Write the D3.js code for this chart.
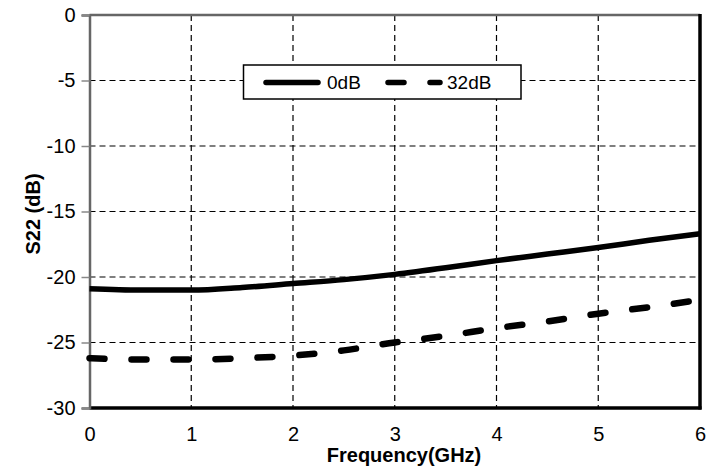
<!DOCTYPE html>
<html>
<head>
<meta charset="utf-8">
<script src="https://cdn.jsdelivr.net/npm/d3@7/dist/d3.min.js"></script>
<style>
  html, body { margin: 0; padding: 0; background: #fff; }
  svg { display: block; font-family: Arial, "Liberation Sans", sans-serif; }
</style>
</head>
<body>
<svg id="chart" width="721" height="471"></svg>
<script>
// Output return loss S22 versus frequency for two attenuation states
const freqGHz = [0, 0.5, 1, 1.5, 2, 2.5, 3, 3.5, 4, 4.5, 5, 5.5, 6];
const s22_0dB = [-20.9, -21.0, -21.0, -20.8, -20.5, -20.2, -19.8, -19.3, -18.75, -18.25, -17.75, -17.2, -16.7];
const s22_32dB = [-26.2, -26.3, -26.3, -26.2, -26.0, -25.6, -25.0, -24.5, -23.9, -23.4, -22.8, -22.3, -21.75];
const xTicks = [0, 1, 2, 3, 4, 5, 6];
const yTicks = [0, -5, -10, -15, -20, -25, -30];
const seriesNames = ["0dB", "32dB"];

const FONT = "Arial, 'Liberation Sans', sans-serif";
const svg = d3.select("#chart");
const plotLeft = 89.5, plotRight = 700, plotTop = 15, plotBottom = 408;

const x = d3.scaleLinear().domain([0, 6]).range([plotLeft, plotRight]);
const y = d3.scaleLinear().domain([-30, 0]).range([plotBottom, plotTop]);

// dashed grid
const grid = svg.append("g").attr("stroke", "#000").attr("stroke-width", 1.2)
  .attr("stroke-dasharray", "6,4").attr("fill", "none");
xTicks.filter(v => v > 0 && v < 6).forEach(v => {
  grid.append("line").attr("x1", x(v)).attr("x2", x(v)).attr("y1", plotTop).attr("y2", plotBottom);
});
yTicks.filter(v => v < 0 && v > -30).forEach(v => {
  grid.append("line").attr("x1", plotLeft).attr("x2", plotRight).attr("y1", y(v)).attr("y2", y(v));
});

// frame: grey left/top, heavy black right/bottom
svg.append("line").attr("x1", plotLeft).attr("x2", plotRight).attr("y1", plotTop).attr("y2", plotTop)
  .attr("stroke", "#666").attr("stroke-width", 2.5);
svg.append("line").attr("x1", plotRight).attr("x2", plotRight).attr("y1", plotTop - 1).attr("y2", plotBottom + 1.5)
  .attr("stroke", "#000").attr("stroke-width", 3.5);
svg.append("line").attr("x1", plotLeft).attr("x2", plotRight + 1.5).attr("y1", plotBottom).attr("y2", plotBottom)
  .attr("stroke", "#000").attr("stroke-width", 3.5);

// y axis (plain hyphen minus signs)
const yAxis = d3.axisLeft(y).tickValues(yTicks).tickSize(8).tickPadding(6).tickFormat(d => String(d));
const ya = svg.append("g").attr("transform", `translate(${plotLeft},0)`).call(yAxis);
ya.select(".domain").attr("stroke", "#666").attr("stroke-width", 2.5);
ya.selectAll(".tick line").attr("stroke", "#888").attr("stroke-width", 1.5);
ya.selectAll(".tick text").attr("font-size", 20).attr("fill", "#000").attr("font-family", FONT);

// x axis
const xAxis = d3.axisBottom(x).tickValues(xTicks).tickSize(0).tickPadding(19).tickFormat(d => String(d));
const xa = svg.append("g").attr("transform", `translate(0,${plotBottom})`).call(xAxis);
xa.select(".domain").remove();
xa.selectAll(".tick text").attr("font-size", 20).attr("fill", "#000").attr("font-family", FONT);

// axis titles
svg.append("text").attr("x", 404).attr("y", 462)
  .attr("text-anchor", "middle").attr("font-size", 20).attr("font-weight", "bold")
  .text("Frequency(GHz)");
svg.append("text").attr("transform", `translate(40,214) rotate(-90)`)
  .attr("text-anchor", "middle").attr("font-size", 20).attr("font-weight", "bold")
  .text("S22 (dB)");

// curves
const line = d3.line().x(d => x(d[0])).y(d => y(d[1])).curve(d3.curveMonotoneX);
const plot = svg.append("g");
plot.append("path").datum(freqGHz.map((f, i) => [f, s22_0dB[i]]))
  .attr("d", line).attr("fill", "none").attr("stroke", "#000").attr("stroke-width", 5.5);
plot.append("path").datum(freqGHz.map((f, i) => [f, s22_32dB[i]]))
  .attr("d", line).attr("fill", "none").attr("stroke", "#000").attr("stroke-width", 6.5)
  .attr("stroke-dasharray", "15,27").attr("stroke-linecap", "round");

// legend
const lg = svg.append("g");
lg.append("rect").attr("x", 243.5).attr("y", 65).attr("width", 277.5).attr("height", 34)
  .attr("fill", "#fff").attr("stroke", "#000").attr("stroke-width", 1.5);
lg.append("line").attr("x1", 266).attr("x2", 318).attr("y1", 82.5).attr("y2", 82.5)
  .attr("stroke", "#000").attr("stroke-width", 5.5).attr("stroke-linecap", "round");
lg.append("text").attr("x", 327).attr("y", 89).attr("font-size", 19).attr("font-family", FONT)
  .text(seriesNames[0]);
lg.append("line").attr("x1", 388).attr("x2", 440).attr("y1", 82.5).attr("y2", 82.5)
  .attr("stroke", "#000").attr("stroke-width", 5.5).attr("stroke-linecap", "round")
  .attr("stroke-dasharray", "16,26");
lg.append("text").attr("x", 447).attr("y", 89).attr("font-size", 19).attr("font-family", FONT)
  .text(seriesNames[1]);
</script>
</body>
</html>
